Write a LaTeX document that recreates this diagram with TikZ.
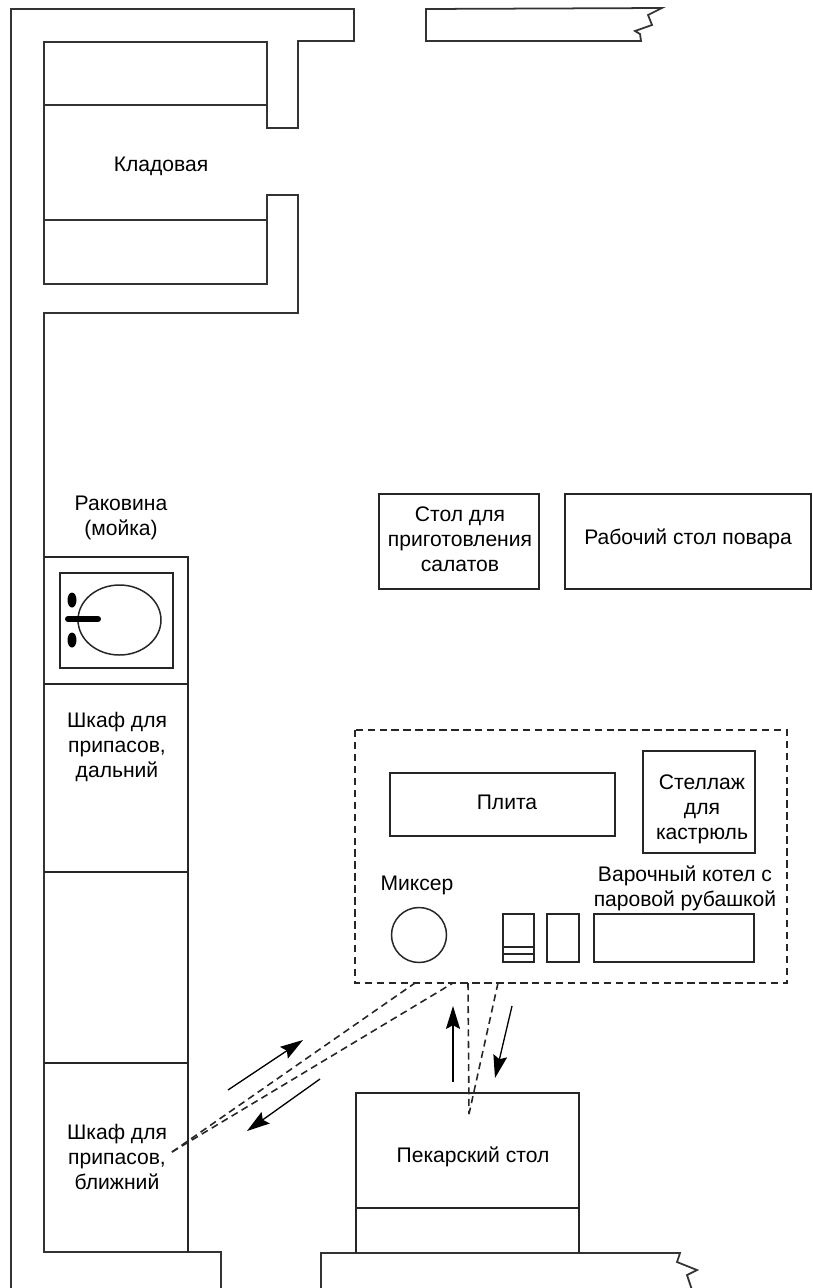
\documentclass[tikz,border=0pt]{standalone}
\usepackage{fontspec}
\setmainfont{Liberation Sans}
\usetikzlibrary{arrows.meta}

\tikzset{
  wall/.style={draw=black!80, line width=1pt, line join=miter},
  item/.style={draw=black!85, line width=0.85pt},
  caption/.style={align=center, inner sep=0pt, font=\fontsize{12}{14.2}\selectfont},
  zone/.style={draw=black!85, line width=1pt, dash pattern=on 4.2pt off 2.6pt},
  route/.style={draw=black!85, line width=0.9pt, dash pattern=on 4pt off 2.6pt},
  move/.style={draw=black, line width=0.75pt, -{Stealth[length=13pt, width=8pt, inset=2pt]}},
}

\begin{document}
\begin{tikzpicture}[x=0.02cm, y=-0.02cm]
            \useasboundingbox (0,0) rectangle (813,1288);

            \draw[wall] (11,1290) -- (11,9) -- (354,9) -- (354,41) -- (298,41) -- (298,128)
                -- (267,128) -- (267,42) -- (44,42) -- (44,284) -- (267,284) -- (267,195)
                -- (298,195) -- (298,313) -- (44,313) -- (44,1252) -- (221,1252) -- (221,1290);
            \draw[wall] (44,105) -- (267,105);
            \draw[wall] (44,220) -- (267,220);
            \draw[wall] (426,9) -- (662,8) -- (648,15) -- (652,25) -- (635,31) -- (640,34)
                -- (641,41) -- (426,41) -- cycle;
            \draw[wall] (321,1290) -- (321,1253) -- (680,1253) -- (677,1262) -- (697,1270)
                -- (687,1275) -- (692,1290);

            \draw[item] (44,557) -- (188,557) -- (188,1252);
            \draw[item] (44,684) -- (188,684);
            \draw[item] (44,872) -- (188,872);
            \draw[item] (44,1063) -- (188,1063);
            \draw[item] (60,573) rectangle (173,668);
            \draw[item] (119.5,620) ellipse [x radius=41.5, y radius=35];
            \fill[black] (72,600) ellipse [x radius=4.5, y radius=7.5];
            \fill[black] (72,640) ellipse [x radius=4.5, y radius=7.5];
            \draw[black, line width=3.4pt, line cap=round] (68,619) -- (98,619);

            \draw[item] (379,494) rectangle (539,589);
            \draw[item] (565,494) rectangle (811,589);
            \draw[zone] (355,730) rectangle (787,983);
            \draw[item] (390,773) rectangle (615,836);
            \draw[item] (643,751) rectangle (755,853);
            \draw[item] (419,935) circle [radius=27.5];
            \draw[item] (503,914) rectangle (534,962);
            \draw[item] (503,947) -- (534,947);
            \draw[item] (503,954) -- (534,954);
            \draw[item] (547,914) rectangle (579,962);
            \draw[item] (594,914) rectangle (754,962);
            \draw[item] (356,1253) -- (356,1093) -- (579,1093) -- (579,1253);
            \draw[item] (356,1208) -- (579,1208);

            \node[caption] (pantry) at (161,166) {Кладовая};
            \node[caption] (sink) at (121,518) {Раковина\\(мойка)};
            \node[caption] (farstore) at (117,747) {Шкаф для\\припасов,\\дальний};
            \node[caption] (nearstore) at (117,1157) {Шкаф для\\припасов,\\ближний};
            \node[caption] (salad) at (460,539) {Стол для\\приготовления\\салатов};
            \node[caption] (chef) at (688,539) {Рабочий стол повара};
            \node[caption] (stove) at (507,802) {Плита};
            \node[caption] (rack) at (702,809) {Стеллаж\\для\\кастрюль};
            \node[caption] (mixer) at (417,885) {Миксер};
            \node[caption] (kettle) at (685,888) {Варочный котел с\\паровой рубашкой};
            \node[caption] (bakery) at (473,1157) {Пекарский стол};

            \coordinate (storeend) at (172,1152);
            \coordinate (zonea) at (415,983);
            \coordinate (zoneb) at (453,983);
            \coordinate (zonec) at (468,983);
            \coordinate (zoned) at (498,983);
            \coordinate (bakeend) at (469,1114);
            \draw[route] (storeend) -- (zonea);
            \draw[route] (storeend) -- (zoneb);
            \draw[route] (zonec) -- (bakeend);
            \draw[route] (zoned) -- (bakeend);

            \coordinate (outs) at (228,1090);
            \coordinate (oute) at (303,1040);
            \coordinate (backs) at (320,1079);
            \coordinate (backe) at (247,1131);
            \coordinate (ups) at (453,1082);
            \coordinate (upe) at (453,1006);
            \coordinate (downs) at (512,1006);
            \coordinate (downe) at (495,1078);
            \draw[move] (outs) -- (oute);
            \draw[move] (backs) -- (backe);
            \draw[move] (ups) -- (upe);
            \draw[move] (downs) -- (downe);
    	\end{tikzpicture}
\end{document}
